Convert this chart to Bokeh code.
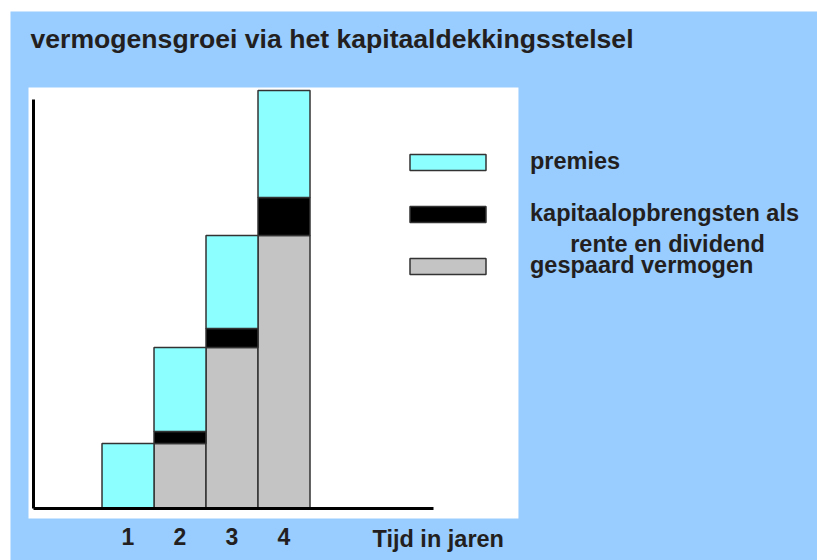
from bokeh.plotting import figure
from bokeh.models import (ColumnDataSource, Range1d, Legend, LegendItem, Label,
                          FixedTicker, BoxAnnotation)
from bokeh.embed import file_html
from bokeh.resources import INLINE

# ---- data (arbitrary units) ----
jaren = [1, 2, 3, 4]
jaar_labels = ["1", "2", "3", "4"]
gespaard = [0.0, 6.5, 16.1, 27.3]
rente = [0.0, 1.2, 1.9, 3.8]
premies = [6.5, 8.4, 9.3, 10.7]

titel = "vermogensgroei via het kapitaaldekkingsstelsel"
x_titel = "Tijd in jaren"
lbl_premies = "premies"
lbl_rente_1 = "kapitaalopbrengsten als"
lbl_rente_2 = "rente en dividend"
lbl_gespaard = "gespaard vermogen"

BLUE = "#99ccff"
CYAN = "#8cffff"
GRAY = "#c4c4c4"
BLACK = "#000000"
OUTLINE = "#333333"
TXT = "#231f20"
FONT = "Liberation Sans"

source = ColumnDataSource(dict(jaar=jaren, gespaard=gespaard, rente=rente, premies=premies))

p = figure(width=817, height=560, output_backend="svg", toolbar_location=None,
           title=None,
           x_range=Range1d(-1.26, 14.26), y_range=Range1d(-5.2, 49.7),
           min_border_left=10, min_border_right=0, min_border_top=11, min_border_bottom=0)
p.background_fill_color = BLUE
p.border_fill_color = "white"
p.outline_line_color = None
p.grid.visible = False

# white chart panel
p.add_layout(BoxAnnotation(left=-0.914, right=8.509, bottom=-1.0, top=42.1,
                           fill_color="white", fill_alpha=1.0, line_color=None,
                           level="underlay"))

renderers = p.vbar_stack(["gespaard", "rente", "premies"], x="jaar", width=1.0,
                         fill_color=[GRAY, BLACK, CYAN], line_color=OUTLINE,
                         line_width=1.5, source=source)

# axes
xa = p.xaxis[0]
xa.fixed_location = 0
xa.bounds = (-0.82, 6.875)
xa.ticker = FixedTicker(ticks=jaren)
xa.major_label_overrides = {j: l for j, l in zip(jaren, jaar_labels)}
xa.axis_line_width = 3
xa.axis_line_color = "black"
xa.major_tick_line_color = None
xa.minor_tick_line_color = None
xa.major_tick_out = 0
xa.major_tick_in = 0
xa.major_label_standoff = 19
xa.major_label_text_font = FONT
xa.major_label_text_font_style = "bold"
xa.major_label_text_font_size = "23px"
xa.major_label_text_color = TXT

ya = p.yaxis[0]
ya.fixed_location = -0.82
ya.bounds = (0, 40.9)
ya.ticker = FixedTicker(ticks=[])
ya.axis_line_width = 3
ya.axis_line_color = "black"
ya.major_tick_line_color = None
ya.minor_tick_line_color = None
ya.major_label_text_font_size = "0px"

# title
p.add_layout(Label(x=20, y=522, x_units="screen", y_units="screen", text=titel,
                   text_font=FONT, text_font_style="bold", text_font_size="26.6px",
                   text_color=TXT, text_align="left", text_baseline="middle"))

# x axis caption
p.add_layout(Label(x=362, y=21.5, x_units="screen", y_units="screen", text=x_titel,
                   text_font=FONT, text_font_style="bold", text_font_size="23.5px",
                   text_color=TXT, text_align="left", text_baseline="middle"))

# legend
legend = Legend(items=[
    LegendItem(label=lbl_premies, renderers=[renderers[2]]),
    LegendItem(label=lbl_rente_1, renderers=[renderers[1]]),
    LegendItem(label=lbl_gespaard, renderers=[renderers[0]]),
], location=(390, 281), orientation="vertical",
    glyph_width=95, glyph_height=20, label_standoff=35, label_height=27,
    spacing=25, padding=0, margin=0,
    background_fill_alpha=0, border_line_alpha=0,
    label_text_font=FONT, label_text_font_style="bold", label_text_font_size="23.5px",
    label_text_color=TXT)
p.add_layout(legend, "center")

p.add_layout(Label(x=657, y=317, x_units="screen", y_units="screen", text=lbl_rente_2,
                   text_font=FONT, text_font_style="bold", text_font_size="23.5px",
                   text_color=TXT, text_align="center", text_baseline="middle"))

open("out.html", "w").write(file_html(p, INLINE))
